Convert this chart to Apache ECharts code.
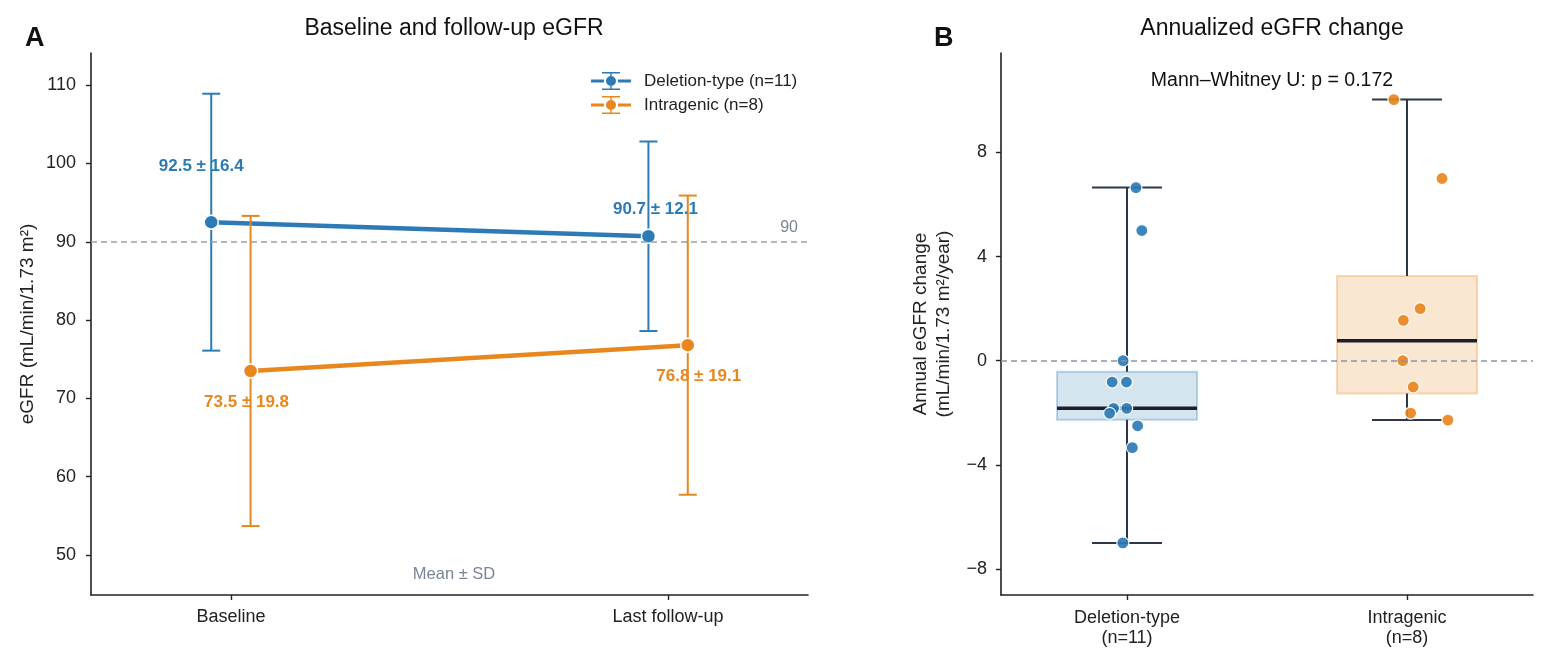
<!DOCTYPE html>
<html>
<head>
<meta charset="utf-8">
<script src="https://cdn.jsdelivr.net/npm/echarts@6/dist/echarts.min.js"></script>
<style>
  html, body { margin: 0; padding: 0; background: #fff; }
  #chart { width: 1546px; height: 657px; }
</style>
</head>
<body>
<div id="chart"></div>
<script>
// panel A: mean +- SD at two time points
const timepoints = ['Baseline', 'Last follow-up']
const delMean = [92.5, 90.7]
const delSD = [16.4, 12.1]
const intMean = [73.5, 76.8]
const intSD = [19.8, 19.1]
const eGFRTicks = [50, 60, 70, 80, 90, 100, 110]

// panel B: annualized change per patient
const groups = ['Deletion-type\n(n=11)', 'Intragenic\n(n=8)']
const delChange = [6.65, 5.0, 0.0, -0.82, -0.82, -1.83, -1.83, -2.02, -2.50, -3.34, -7.0]
const delJitter = [0.032, 0.053, -0.014, -0.053, -0.002, -0.048, -0.001, -0.062, 0.038, 0.019, -0.015]
const intChange = [10.03, 7.0, 2.0, 1.55, 0.0, -1.01, -2.01, -2.28]
const intJitter = [-0.047, 0.125, 0.047, -0.013, -0.015, 0.022, 0.013, 0.146]
// whisker low, Q1, median, Q3, whisker high
const delBox = [-7.0, -2.27, -1.83, -0.42, 6.65]
const intBox = [-2.28, -1.26, 0.77, 3.25, 10.03]
const changeTicks = [-8, -4, 0, 4, 8]
const pValue = 0.172

const BLUE = '#2c7bb6'
const ORANGE = '#e8871e'
const INK = '#222'
const GREY = '#7a8494'
const FONT = '"Liberation Sans", Arial, sans-serif'
const DODGE = 0.045

const legendIcon = 'path://M0,7.5H13V10.5H0Z M27,7.5H40V10.5H27Z M19.3,0H20.7V18H19.3Z ' +
  'M11,0H29V1.4H11Z M11,16.6H29V18H11Z M25,9A5,5 0 1 1 15,9A5,5 0 1 1 25,9Z'

const minus = (v) => String(v).replace('-', '\u2212')

const meanPoints = (means, off) => means.map((m, i) => [i + off, m])
const errPoints = (means, sds, off) => means.map((m, i) => [i + off, m, sds[i]])

// pixel offsets of the "mean ± SD" annotations relative to their point
const labelShift = {
  del: [[-10, -56], [7, -27]],
  int: [[-4, 31], [11, 31]]
}

const annotations = (means, sds, off, shifts, color) => means.map((m, i) => ({
  value: [i + off, m],
  label: {
    formatter: `${m.toFixed(1)} \u00b1 ${sds[i].toFixed(1)}`,
    offset: shifts[i],
    color: color
  }
}))

const renderErrorBar = (color) => (params, api) => {
  const x = api.value(0)
  const m = api.value(1)
  const sd = api.value(2)
  const top = api.coord([x, m + sd])
  const bot = api.coord([x, m - sd])
  const cap = 9
  const style = { stroke: color, lineWidth: 2 }
  return {
    type: 'group',
    children: [
      { type: 'line', shape: { x1: top[0], y1: top[1], x2: bot[0], y2: bot[1] }, style },
      { type: 'line', shape: { x1: top[0] - cap, y1: top[1], x2: top[0] + cap, y2: top[1] }, style },
      { type: 'line', shape: { x1: bot[0] - cap, y1: bot[1], x2: bot[0] + cap, y2: bot[1] }, style }
    ]
  }
}

const boxColors = [
  { fill: 'rgba(44,123,182,0.2)', edge: 'rgba(44,123,182,0.3)' },
  { fill: 'rgba(232,135,30,0.2)', edge: 'rgba(232,135,30,0.3)' }
]

const renderBox = (params, api) => {
  const g = api.value(0)
  const [lo, q1, med, q3, hi] = [1, 2, 3, 4, 5].map(k => api.value(k))
  const half = api.size([0.25, 0])[0]
  const capHalf = api.size([0.125, 0])[0]
  const cx = api.coord([g, 0])[0]
  const y = (v) => api.coord([g, v])[1]
  const whisk = { stroke: '#2d3748', lineWidth: 2 }
  const c = boxColors[g]
  return {
    type: 'group',
    children: [
      { type: 'rect', shape: { x: cx - half, y: y(q3), width: 2 * half, height: y(q1) - y(q3) },
        style: { fill: c.fill, stroke: c.edge, lineWidth: 2 } },
      { type: 'line', shape: { x1: cx, y1: y(q3), x2: cx, y2: y(hi) }, style: whisk },
      { type: 'line', shape: { x1: cx, y1: y(q1), x2: cx, y2: y(lo) }, style: whisk },
      { type: 'line', shape: { x1: cx - capHalf, y1: y(hi), x2: cx + capHalf, y2: y(hi) }, style: whisk },
      { type: 'line', shape: { x1: cx - capHalf, y1: y(lo), x2: cx + capHalf, y2: y(lo) }, style: whisk },
      { type: 'line', shape: { x1: cx - half, y1: y(med), x2: cx + half, y2: y(med) },
        style: { stroke: '#1a202c', lineWidth: 3.5 } }
    ]
  }
}

const axisLine = { show: true, onZero: false, lineStyle: { color: INK, width: 1.6 } }
const axisTick = (values) => ({ show: true, length: 5, customValues: values, lineStyle: { color: INK, width: 1.4 } })

const chart = echarts.init(document.getElementById('chart'))

chart.setOption({
  animation: false,
  textStyle: { fontFamily: FONT },
  title: [
    { text: 'A', left: 20, top: 20, textStyle: { fontSize: 27, fontWeight: 'bold', color: '#111', fontFamily: FONT } },
    { text: 'B', left: 929, top: 20, textStyle: { fontSize: 27, fontWeight: 'bold', color: '#111', fontFamily: FONT } },
    { text: 'Baseline and follow-up eGFR', left: 449, top: 12, textAlign: 'center',
      textStyle: { fontSize: 23, fontWeight: 'normal', color: '#111', fontFamily: FONT } },
    { text: 'Annualized eGFR change', left: 1267, top: 12, textAlign: 'center',
      textStyle: { fontSize: 23, fontWeight: 'normal', color: '#111', fontFamily: FONT } },
    { text: `Mann\u2013Whitney U: p = ${pValue.toFixed(3)}`, left: 1267, top: 66, textAlign: 'center',
      textStyle: { fontSize: 19.5, fontWeight: 'normal', color: '#111', fontFamily: FONT } },
    { text: 'Mean \u00b1 SD', left: 449, top: 561, textAlign: 'center',
      textStyle: { fontSize: 16.5, fontWeight: 'normal', color: GREY, fontFamily: FONT } }
  ],
  legend: {
    orient: 'vertical',
    left: 586,
    top: 67,
    itemWidth: 40,
    itemHeight: 18,
    itemGap: 6,
    itemStyle: { borderWidth: 0 },
    textStyle: { fontSize: 17, color: INK, fontFamily: FONT, padding: [0, 0, 0, 8] },
    data: [
      { name: 'Deletion-type (n=11)', icon: legendIcon },
      { name: 'Intragenic (n=8)', icon: legendIcon }
    ]
  },
  grid: [
    { left: 91, right: 738, top: 53, bottom: 62 },
    { left: 1001, right: 13, top: 53, bottom: 62 }
  ],
  xAxis: [
    {
      gridIndex: 0, type: 'value', min: -0.32, max: 1.32,
      axisLine, axisTick: axisTick([0, 1]), splitLine: { show: false },
      axisLabel: { customValues: [0, 1], formatter: (v) => timepoints[Math.round(v)],
        fontSize: 18, color: INK, margin: 13 }
    },
    {
      gridIndex: 1, type: 'value', min: -0.45, max: 1.45,
      axisLine, axisTick: axisTick([0, 1]), splitLine: { show: false },
      axisLabel: { customValues: [0, 1], formatter: (v) => groups[Math.round(v)],
        fontSize: 18, lineHeight: 20, color: INK, margin: 13 }
    }
  ],
  yAxis: [
    {
      gridIndex: 0, type: 'value', min: 44.9, max: 114.1,
      axisLine, axisTick: axisTick(eGFRTicks), splitLine: { show: false },
      axisLabel: { customValues: eGFRTicks, fontSize: 18, color: INK, margin: 15 },
      name: 'eGFR (mL/min/1.73 m\u00b2)', nameLocation: 'middle', nameGap: 54, nameRotate: 90,
      nameTextStyle: { fontSize: 19, color: INK, fontFamily: FONT }
    },
    {
      gridIndex: 1, type: 'value', min: -9, max: 11.82,
      axisLine, axisTick: axisTick(changeTicks), splitLine: { show: false },
      axisLabel: { customValues: changeTicks, formatter: minus, fontSize: 18, color: INK, margin: 14 },
      name: 'Annual eGFR change\n(mL/min/1.73 m\u00b2/year)', nameLocation: 'middle', nameGap: 46, nameRotate: 90,
      nameTextStyle: { fontSize: 19, lineHeight: 23, color: INK, fontFamily: FONT }
    }
  ],
  series: [
    {
      name: 'Deletion-type (n=11)', type: 'custom', xAxisIndex: 0, yAxisIndex: 0, z: 2,
      data: errPoints(delMean, delSD, -DODGE), renderItem: renderErrorBar(BLUE),
      itemStyle: { color: BLUE }
    },
    {
      name: 'Deletion-type (n=11)', type: 'line', xAxisIndex: 0, yAxisIndex: 0, z: 3,
      data: meanPoints(delMean, -DODGE),
      lineStyle: { color: BLUE, width: 4.5 },
      symbol: 'circle', symbolSize: 14,
      itemStyle: { color: BLUE, borderColor: '#fff', borderWidth: 1.5 },
      markLine: {
        silent: true, symbol: 'none',
        lineStyle: { color: '#9a9fa8', type: [6, 4], width: 1.5 },
        label: { show: true, position: 'insideEndTop', formatter: '90', color: GREY, fontSize: 16, distance: [10, 6] },
        data: [{ yAxis: 90 }]
      }
    },
    {
      name: 'Intragenic (n=8)', type: 'custom', xAxisIndex: 0, yAxisIndex: 0, z: 4,
      data: errPoints(intMean, intSD, DODGE), renderItem: renderErrorBar(ORANGE),
      itemStyle: { color: ORANGE }
    },
    {
      name: 'Intragenic (n=8)', type: 'line', xAxisIndex: 0, yAxisIndex: 0, z: 5,
      data: meanPoints(intMean, DODGE),
      lineStyle: { color: ORANGE, width: 4.5 },
      symbol: 'circle', symbolSize: 14,
      itemStyle: { color: ORANGE, borderColor: '#fff', borderWidth: 1.5 }
    },
    {
      type: 'scatter', xAxisIndex: 0, yAxisIndex: 0, z: 6, silent: true,
      symbolSize: 0,
      itemStyle: { opacity: 1 },
      label: { show: true, position: 'inside', fontSize: 17, fontWeight: 'bold', fontFamily: FONT },
      data: annotations(delMean, delSD, -DODGE, labelShift.del, BLUE)
        .concat(annotations(intMean, intSD, DODGE, labelShift.int, ORANGE))
    },
    {
      type: 'custom', xAxisIndex: 1, yAxisIndex: 1, z: 2, silent: true,
      data: [[0, ...delBox], [1, ...intBox]],
      renderItem: renderBox,
      markLine: {
        silent: true, symbol: 'none', label: { show: false },
        lineStyle: { color: '#8a94a6', type: [6, 4], width: 1.5 },
        data: [{ yAxis: 0 }]
      }
    },
    {
      type: 'scatter', xAxisIndex: 1, yAxisIndex: 1, z: 4,
      data: delChange.map((v, i) => [0 + delJitter[i], v]),
      symbolSize: 12,
      itemStyle: { color: BLUE, opacity: 0.92, borderColor: '#fff', borderWidth: 1.2 }
    },
    {
      type: 'scatter', xAxisIndex: 1, yAxisIndex: 1, z: 4,
      data: intChange.map((v, i) => [1 + intJitter[i], v]),
      symbolSize: 12,
      itemStyle: { color: ORANGE, opacity: 0.92, borderColor: '#fff', borderWidth: 1.2 }
    }
  ]
})
</script>
</body>
</html>
